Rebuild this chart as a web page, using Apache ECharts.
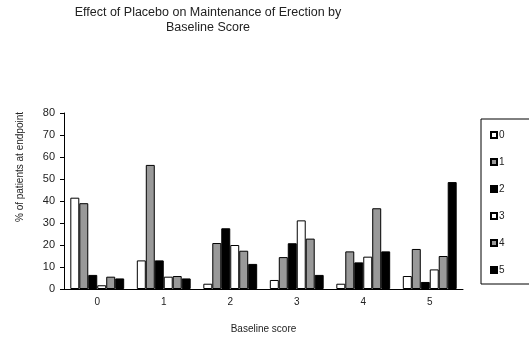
<!DOCTYPE html>
<html><head><meta charset="utf-8">
<script src="https://cdn.jsdelivr.net/npm/echarts@6/dist/echarts.min.js"></script>
<style>html,body{margin:0;padding:0;background:#fff}#c{width:529px;height:361px}</style>
</head><body><div id="c"></div>
<script>
var categories = ['0','1','2','3','4','5'];
var seriesNames = ['0','1','2','3','4','5'];
var s0 = [41.5, 13.0, 2.4, 4.1, 2.4, 5.9];
var s1 = [39.0, 56.4, 20.9, 14.5, 17.1, 18.2];
var s2 = [6.4, 13.0, 27.6, 20.8, 12.1, 3.2];
var s3 = [1.7, 5.6, 20.0, 31.2, 14.7, 8.9];
var s4 = [5.6, 5.9, 17.4, 22.9, 36.7, 15.0];
var s5 = [4.8, 4.8, 11.4, 6.4, 17.1, 48.6];
var yTicks = [0,10,20,30,40,50,60,70,80];
var values = [s0,s1,s2,s3,s4,s5];
var colors = ['#ffffff','#999999','#000000','#ffffff','#999999','#000000'];
var font = 'Liberation Sans, Arial, sans-serif';
var chart = echarts.init(document.getElementById('c'));
chart.setOption({
  animation:false,
  backgroundColor:'#fff',
  title:{text:'Effect of Placebo on Maintenance of Erection by\nBaseline Score', left:203, top:0, textAlign:'center',
    textStyle:{fontFamily:font,fontSize:12.5,fontWeight:'normal',color:'#222',lineHeight:15}},
  legend:{orient:'vertical', left:481, top:119, data:seriesNames, icon:'rect', itemWidth:6, itemHeight:6, itemGap:17,
    padding:[11,40,9,9], borderColor:'#000', borderWidth:1, textStyle:{fontFamily:font,fontSize:10,color:'#222',padding:[0,0,0,-3]}},
  grid:{left:64, top:113, width:399, height:176, containLabel:false},
  xAxis:{type:'category', data:categories, name:'Baseline score', nameLocation:'middle', nameGap:35,
    nameTextStyle:{fontFamily:font,fontSize:10,color:'#222'},
    axisLine:{lineStyle:{color:'#000'}}, axisTick:{length:5,lineStyle:{color:'#000'}},
    axisLabel:{fontFamily:font,fontSize:10,color:'#222',margin:8}},
  yAxis:{type:'value', min:0, max:80, interval:10, name:'% of patients at endpoint', nameLocation:'middle', nameGap:39,
    nameTextStyle:{fontFamily:font,fontSize:10,color:'#222',padding:[0,0,0,68]},
    splitLine:{show:false},
    axisLine:{show:true,lineStyle:{color:'#000'}}, axisTick:{show:true,length:4,lineStyle:{color:'#000'}},
    axisLabel:{fontFamily:font,fontSize:11,color:'#222',margin:9, formatter:function(v){return yTicks.indexOf(v)>=0?String(v):'';}}},
  series: seriesNames.map(function(n,i){return {name:n,type:'bar',data:values[i],barGap:'0%',barCategoryGap:'19%',
    itemStyle:{color:colors[i],borderColor:'#000',borderWidth:1}};})
});
</script></body></html>
